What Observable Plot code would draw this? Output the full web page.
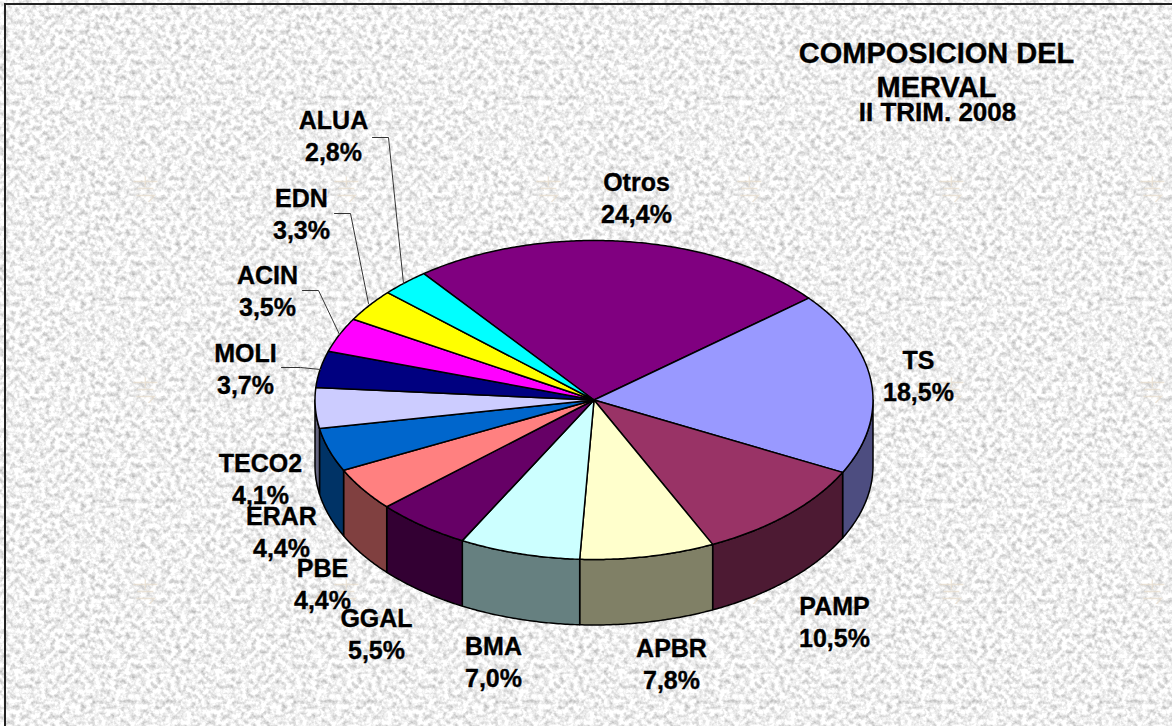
<!DOCTYPE html>
<html><head><meta charset="utf-8">
<script src="https://cdn.jsdelivr.net/npm/d3@7"></script>
<script src="https://cdn.jsdelivr.net/npm/@observablehq/plot@0.6"></script>
<style>
html,body{margin:0;padding:0;width:1172px;height:726px;overflow:hidden;background:#eee}
#wrap{position:relative;width:1172px;height:726px}
#frame{position:absolute;left:4px;top:3px;width:1300px;height:900px;border:2px solid #222;box-sizing:border-box}
#wrap svg{position:absolute;left:0;top:0;background:transparent!important}
</style></head><body>
<div id="wrap"><div id="frame"></div></div>
<script>
// Data, clockwise from the Otros slice
const names  = ["Otros","TS","PAMP","APBR","BMA","GGAL","PBE","ERAR","TECO2","MOLI","ACIN","EDN","ALUA"];
const values = [24.4,18.5,10.5,7.8,7.0,5.5,4.4,4.4,4.1,3.7,3.5,3.3,2.8];
const colors = ["#800080","#9999FF","#993366","#FFFFCC","#CCFFFF","#660066","#FF8080","#0066CC","#CCCCFF","#000080","#FF00FF","#FFFF00","#00FFFF"];
const titleLines = ["COMPOSICION DEL","MERVAL"];
const subtitle = "II TRIM. 2008";

// Layout (chart space), separate from the data
const W = 1172, H = 726;
const pie = {cx:594, cy:400, rx:279, ry:159.5, depth:65.5, start:-37.6};
const labelAt = {Otros:[636,196],TS:[918,374],PAMP:[834,620],APBR:[671,662],BMA:[493,660],GGAL:[376,632],PBE:[322,582],ERAR:[281,530],TECO2:[260,477],MOLI:[245,367],ACIN:[267,289],EDN:[301,212],ALUA:[333,134]};
const leaders = {
  ALUA:[[372,137],[388,137],[403,283]],
  EDN:[[334,213],[350,213],[368,303]],
  ACIN:[[302,290],[318,290],[339,334]],
  MOLI:[[281,367],[300,367],[320,369]]
};

// Paper texture
const tile = 201.5;
const tileSvg = `<svg xmlns="http://www.w3.org/2000/svg" width="${tile}" height="${tile}"><filter id="n" x="0" y="0" width="100%" height="100%" color-interpolation-filters="sRGB"><feTurbulence type="fractalNoise" baseFrequency="0.2" numOctaves="3" seed="7" stitchTiles="stitch"/><feGaussianBlur stdDeviation="0.7"/><feColorMatrix values="0.55 0 0 0 0.665 0.55 0 0 0 0.665 0.55 0 0 0 0.665 0 0 0 0 1"/></filter><rect width="100%" height="100%" filter="url(#n)"/><g stroke="#e8dccb" stroke-width="1.4" fill="none" opacity="0.7"><path d="M133 181h24M137 188h16M136 195h18l-9 10M145 176v10"/></g></svg>`;
document.body.style.backgroundImage = `url("data:image/svg+xml,${encodeURIComponent(tileSvg)}")`;
document.body.style.backgroundSize = `${tile}px ${tile}px`;

// Geometry
const rad = Math.PI/180;
const total = d3.sum(values);
const pt = a => [pie.cx + pie.rx*Math.sin(a*rad), pie.cy - pie.ry*Math.cos(a*rad)];
const halve = c => {const r=d3.rgb(c); return d3.rgb(Math.ceil(r.r/2),Math.ceil(r.g/2),Math.ceil(r.b/2)).toString();};
let acc = pie.start;
const slices = names.map((name,i)=>{
  const a0 = acc, a1 = acc + values[i]/total*360; acc = a1;
  return {name, value:values[i], color:colors[i], side:halve(colors[i]), a0, a1};
});
const steps = (a,b)=>{const n=Math.max(2,Math.ceil((b-a)/0.5));return d3.range(n+1).map(k=>a+(b-a)*k/n);};
const topRows = slices.flatMap(s=>steps(s.a0,s.a1).map(a=>{const [x,y]=pt(a);return {name:s.name,color:s.color,x,y};}));
const sideRows = slices.flatMap(s=>{
  // visible wall: the front half of the rim
  const a=Math.max(s.a0,90), b=Math.min(s.a1,270);
  if (b<=a) return [];
  return steps(a,b).map(t=>{const [x,y]=pt(t);return {name:s.name,color:s.side,x,y,y2:y+pie.depth};});
});
const labelRows = slices.map(s=>({text:`${s.name}\n${s.value.toFixed(1).replace(".",",")}%`,x:labelAt[s.name][0],y:labelAt[s.name][1]}));
const leaderRows = Object.entries(leaders).flatMap(([name,p])=>p.map(([x,y])=>({name,x,y})));
const font = "Liberation Sans, Arial, sans-serif";
const ink = {fontWeight:"bold",fill:"#000",stroke:"#000",strokeWidth:0.35,textAnchor:"middle"};

const chart = Plot.plot({
  width:W, height:H, margin:0,
  x:{domain:[0,W],range:[0,W],axis:null},
  y:{domain:[0,H],range:[0,H],axis:null},
  style:{background:"transparent",fontFamily:font},
  marks:[
    Plot.area(sideRows,{x1:"x",y1:"y",x2:"x",y2:"y2",z:"name",fill:"color",stroke:"#000",strokeWidth:1.5}),
    Plot.area(topRows,{x1:()=>pie.cx,y1:()=>pie.cy,x2:"x",y2:"y",z:"name",fill:"color",stroke:"#000",strokeWidth:1.5}),
    Plot.line(leaderRows,{x:"x",y:"y",z:"name",stroke:"#333",strokeWidth:1}),
    Plot.text(labelRows,{x:"x",y:"y",text:"text",fontSize:25,lineHeight:1.3,...ink}),
    Plot.text([titleLines.join("\n")],{x:()=>936,y:()=>69,text:d=>d,fontSize:29,lineHeight:1.17,...ink}),
    Plot.text([subtitle],{x:()=>937,y:()=>112,text:d=>d,fontSize:26,...ink})
  ]
});
document.getElementById("wrap").appendChild(chart);
</script>
</body></html>
